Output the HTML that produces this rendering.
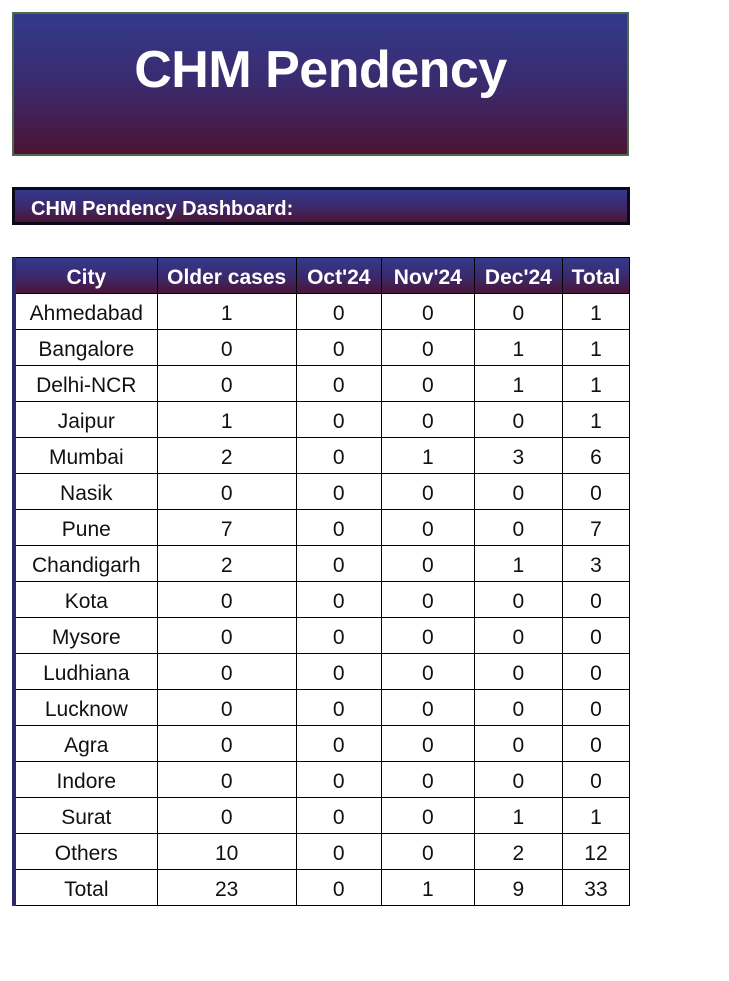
<!DOCTYPE html>
<html><head><meta charset="utf-8"><style>
body{margin:0;width:729px;height:981px;background:#fff;font-family:"Liberation Sans",sans-serif;position:relative;overflow:hidden}
.grad{background:linear-gradient(#323a8c,#3b2a6e 50%,#4b1434)}
#title{position:absolute;left:12px;top:12px;width:613px;height:140px;border:2px solid #4d6b4a;color:#fff;font-weight:bold;font-size:52px;text-align:center;line-height:112px;letter-spacing:-0.5px}
#sub{position:absolute;left:12px;top:187px;height:32px;border:3px solid #0a0a1a;color:#fff;font-weight:bold;font-size:20px;line-height:38px;padding-left:16px;box-sizing:content-box;width:596px}
table{position:absolute;left:12px;top:257px;border-collapse:collapse;border-left:4px solid #2d2a6a;table-layout:fixed;width:618px}
td,th{border:1px solid #000;padding:5px 0 0 0;box-sizing:border-box;text-align:center;font-size:21px;color:#111;line-height:30px;height:36px}
th{color:#fff;font-weight:bold;font-size:21px}
</style></head><body>
<div id="title" class="grad">CHM Pendency</div>
<div id="sub" class="grad">CHM Pendency Dashboard:</div>
<table>
<colgroup><col style="width:143px"><col style="width:139px"><col style="width:85px"><col style="width:93px"><col style="width:88px"><col style="width:67px"></colgroup>
<thead><tr class="grad">
<th>City</th>
<th>Older cases</th>
<th>Oct'24</th>
<th>Nov'24</th>
<th>Dec'24</th>
<th>Total</th>
</tr></thead>
<tbody id="tb"></tbody></table>
<script>
const cities=["Ahmedabad","Bangalore","Delhi-NCR","Jaipur","Mumbai","Nasik","Pune","Chandigarh","Kota","Mysore","Ludhiana","Lucknow","Agra","Indore","Surat","Others","Total"];
const older=[1,0,0,1,2,0,7,2,0,0,0,0,0,0,0,10,23];
const oct=[0,0,0,0,0,0,0,0,0,0,0,0,0,0,0,0,0];
const nov=[0,0,0,0,1,0,0,0,0,0,0,0,0,0,0,0,1];
const dec=[0,1,1,0,3,0,0,1,0,0,0,0,0,0,1,2,9];
const total=[1,1,1,1,6,0,7,3,0,0,0,0,0,0,1,12,33];
const tb=document.getElementById('tb');
cities.forEach((c,i)=>{
const tr=document.createElement('tr');


[c,older[i],oct[i],nov[i],dec[i],total[i]].forEach(v=>{
const td=document.createElement('td');


td.textContent=v;tr.appendChild(td);});
tb.appendChild(tr);});
</script>
</body></html>
